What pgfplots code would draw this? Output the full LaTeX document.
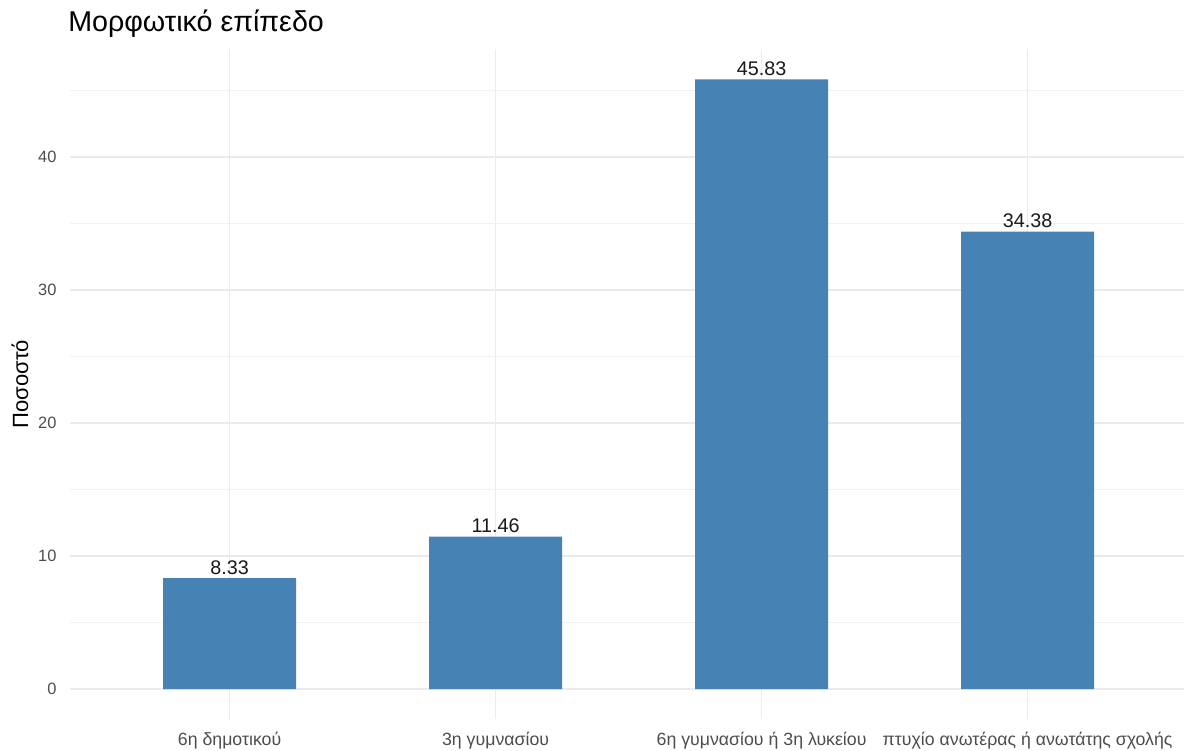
\documentclass[border=0pt]{standalone}
\usepackage{fontspec}
\setmainfont{Liberation Sans}
\usepackage{pgfplots}
\pgfplotsset{compat=1.18}
\definecolor{steelblue}{RGB}{70,130,180}
\definecolor{gridmaj}{RGB}{235,235,235}
\definecolor{gridmin}{RGB}{242,242,242}
\definecolor{axtext}{RGB}{77,77,77}
\begin{document}
\begin{tikzpicture}
\begin{axis}[
  scale only axis,
  width=835.5pt, height=502.9pt,
  xmin=0.4, xmax=4.588,
  ymin=-2.29, ymax=48.12,
  axis line style={draw=none},
  major tick length=0pt, minor tick length=0pt,
  xtick={1,2,3,4},
  xticklabels={6η δημοτικού, 3η γυμνασίου, 6η γυμνασίου ή 3η λυκείου, πτυχίο ανωτέρας ή ανωτάτης σχολής},
  ytick={0,10,20,30,40},
  minor ytick={5,15,25,35,45},
  xmajorgrids, ymajorgrids, yminorgrids,
  major grid style={draw=gridmaj, line width=1.1pt},
  minor grid style={draw=gridmin, line width=0.6pt},
  /pgf/number format/assume math mode=true,
  yticklabel style={font=\fontsize{12.3}{14}\selectfont, text=axtext, inner sep=0pt, anchor=east, xshift=-10pt},
  xticklabel style={font=\fontsize{13.3}{15}\selectfont, text=axtext, inner sep=0pt, anchor=north, yshift=-9pt},
  ylabel={Ποσοστό},
  ylabel style={font=\fontsize{16.5}{18}\selectfont, at={(axis description cs:-0.045,0.5)}, anchor=center},
  ybar, bar width=0.5,
  nodes near coords={\pgfmathprintnumber[fixed,fixed zerofill,precision=2]{\pgfplotspointmeta}},
  every node near coord/.style={font=\fontsize{14.8}{16}\selectfont, text=black!90, anchor=base, inner sep=0pt, yshift=3pt},
  clip=false,
]
\addplot[fill=steelblue, draw=none] coordinates {(1,8.33) (2,11.46) (3,45.83) (4,34.38)};
\end{axis}
\node[anchor=base west, inner sep=0pt, font=\fontsize{21.5}{24}\selectfont] at (-1.5pt,515.6pt) {Μορφωτικό επίπεδο};
\pgfresetboundingbox
\path (-52.5pt,-23.6pt) rectangle (835.5pt,539.6pt);
\end{tikzpicture}
\end{document}
